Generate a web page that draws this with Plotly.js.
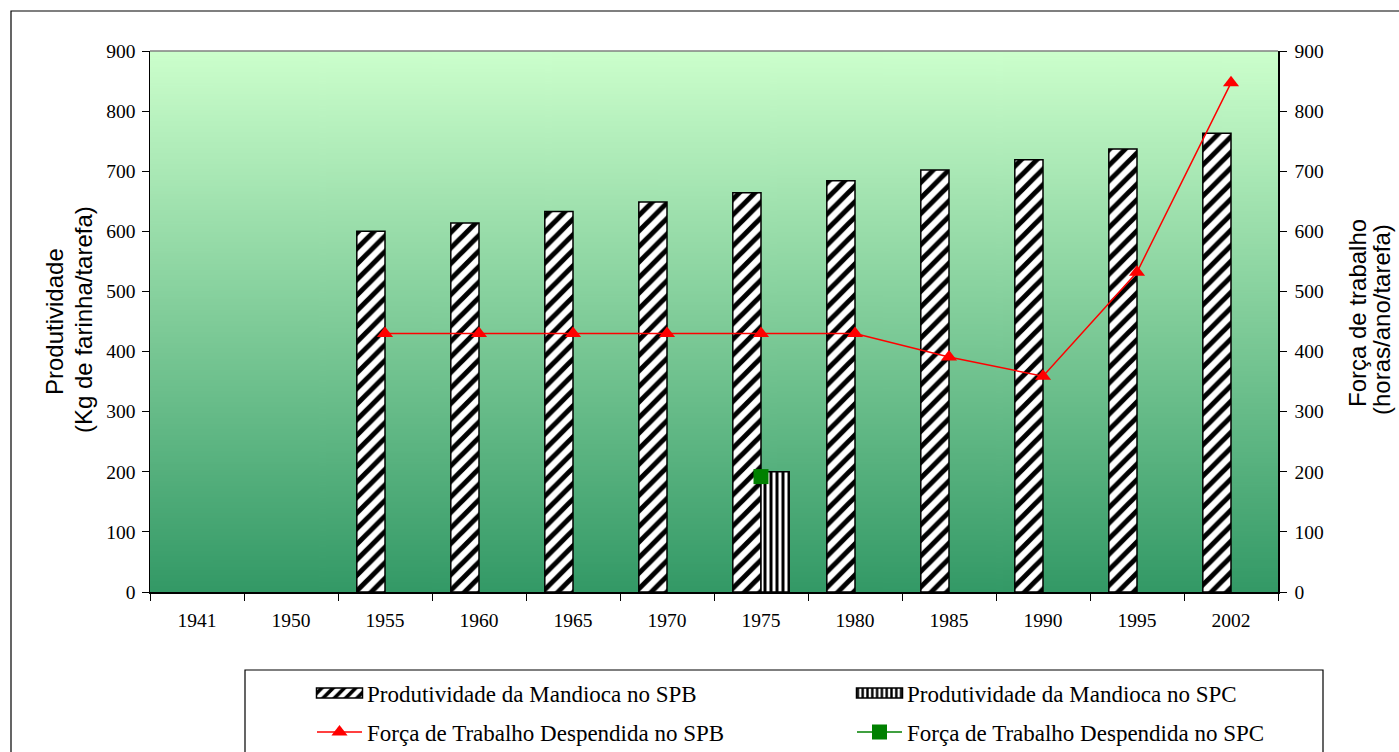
<!DOCTYPE html>
<html>
<head>
<meta charset="utf-8">
<script src="https://cdn.plot.ly/plotly-3.0.1.min.js"></script>
<style>html,body{margin:0;padding:0;background:#fff;}#chart{width:1399px;height:752px;}</style>
</head>
<body>
<div id="chart"></div>
<script>
const years = ['1941','1950','1955','1960','1965','1970','1975','1980','1985','1990','1995','2002'];
const prodSPB = [null, null, 600, 614, 633, 649, 664, 684, 702, 719, 737, 763];
const prodSPC = [null, null, null, null, null, null, 200, null, null, null, null, null];
const forcaSPB = [null, null, 430, 430, 430, 430, 430, 430, 391, 359, 532, 847];
const forcaSPC = [null, null, null, null, null, null, 192, null, null, null, null, null];
const names = ['Produtividade da Mandioca no SPB', 'Produtividade da Mandioca no SPC',
               'Força de Trabalho Despendida no SPB', 'Força de Trabalho Despendida no SPC'];
const leftTitle = ['Produtividade', '(Kg de farinha/tarefa)'];
const rightTitle = ['Força de trabalho', '(horas/ano/tarefa)'];

// gradient background image
const cv = document.createElement('canvas');
cv.width = 10; cv.height = 400;
const ctx = cv.getContext('2d');
const g = ctx.createLinearGradient(0, 0, 0, 400);
g.addColorStop(0, '#ccffcc');
g.addColorStop(1, '#339966');
ctx.fillStyle = g; ctx.fillRect(0, 0, 10, 400);
const bgURL = cv.toDataURL('image/png');

const serif = 'Liberation Serif, Times New Roman, serif';
const sans = 'Liberation Sans, Arial, sans-serif';

const traces = [
  {type:'bar', x:years, y:prodSPB, name:names[0],
   marker:{color:'#ffffff', line:{color:'#000', width:1.5},
     pattern:{shape:'/', fgcolor:'#000', bgcolor:'#ffffff', size:11, solidity:0.45}},
   legend:'legend'},
  {type:'bar', x:years, y:prodSPC, name:names[1],
   marker:{color:'#ffffff', line:{color:'#000', width:1.5},
     pattern:{shape:'|', fgcolor:'#000', bgcolor:'#ffffff', size:6, solidity:0.5}},
   legend:'legend2'},
  {type:'scatter', mode:'lines+markers', x:years, y:forcaSPB, yaxis:'y2',
   name:names[2], connectgaps:false,
   line:{color:'#ff0000', width:1.5}, marker:{symbol:'triangle-up', size:14, color:'#ff0000'},
   legend:'legend3'},
  {type:'scatter', mode:'lines+markers', x:years, y:forcaSPC, yaxis:'y2',
   name:names[3],
   line:{color:'#008000', width:1.5}, marker:{symbol:'square', size:15, color:'#008000'},
   legend:'legend4'}
];

const W = 1128, H = 541;
const px = v => (v - 150) / W;
const py = v => (592 - v) / H;

function leg(x, y) {
  return {orientation:'h', x:px(x), y:py(y), xanchor:'left', yanchor:'middle',
    itemwidth:45, bgcolor:'rgba(0,0,0,0)', borderwidth:0,
    font:{family:serif, size:23, color:'#000'}};
}

const tickFont = {family:serif, size:19.5, color:'#000'};
const titleFont = {family:sans, size:24, color:'#000'};

const layout = {
  width:1399, height:752,
  margin:{l:150, r:121, t:51, b:160, autoexpand:false},
  paper_bgcolor:'#ffffff', plot_bgcolor:'rgba(0,0,0,0)',
  barmode:'group', bargap:0.4, bargroupgap:0,
  showlegend:true,
  font:{family:serif, size:19.5, color:'#000'},
  xaxis:{type:'category', categoryorder:'array', categoryarray:years, range:[-0.5, years.length - 0.5], autorange:false,
    showline:true, linecolor:'#000', linewidth:1.5, ticks:'outside', ticklen:7, tickcolor:'#000',
    tickson:'boundaries', showgrid:false, zeroline:false, ticklabelstandoff:10,
    tickfont:tickFont, fixedrange:true},
  yaxis:{range:[0,900], dtick:100, showline:true, linecolor:'#000', linewidth:1.5,
    ticks:'outside', ticklen:7, tickcolor:'#000', showgrid:false, zeroline:false,
    tickfont:tickFont, ticklabelstandoff:2},
  yaxis2:{range:[0,900], dtick:100, overlaying:'y', side:'right', showline:true, linecolor:'#000', linewidth:1.5,
    ticks:'outside', ticklen:7, tickcolor:'#000', showgrid:false, zeroline:false,
    tickfont:tickFont, ticklabelstandoff:4},
  legend:leg(312, 693),
  legend2:leg(852, 693),
  legend3:leg(312, 732),
  legend4:leg(852, 732),
  annotations:[
    {text:leftTitle[0], xref:'paper', yref:'paper', x:px(54), y:py(322), textangle:-90, showarrow:false, font:titleFont, xanchor:'center', yanchor:'middle'},
    {text:leftTitle[1], xref:'paper', yref:'paper', x:px(83), y:py(320), textangle:-90, showarrow:false, font:titleFont, xanchor:'center', yanchor:'middle'},
    {text:rightTitle[0], xref:'paper', yref:'paper', x:px(1357), y:py(313), textangle:-90, showarrow:false, font:titleFont, xanchor:'center', yanchor:'middle'},
    {text:rightTitle[1], xref:'paper', yref:'paper', x:px(1381), y:py(320), textangle:-90, showarrow:false, font:titleFont, xanchor:'center', yanchor:'middle'}
  ],
  images:[{source:bgURL, xref:'paper', yref:'paper', x:0, y:1, sizex:1, sizey:1,
    sizing:'stretch', layer:'below'}],
  shapes:[
    {type:'line', xref:'paper', yref:'paper', x0:0, x1:1, y0:1, y1:1, line:{color:'#808080', width:1.5}},
    {type:'rect', xref:'paper', yref:'paper', x0:px(245), x1:px(1323), y0:py(670), y1:py(780),
      line:{color:'#000', width:1.2}, fillcolor:'rgba(0,0,0,0)'},
    {type:'rect', xref:'paper', yref:'paper', x0:px(11), x1:px(1420), y0:py(11), y1:py(800),
      line:{color:'#000', width:1.2}, fillcolor:'rgba(0,0,0,0)'}
  ]
};

function widenBarSymbols() {
  document.querySelectorAll('#chart .legendpoints path').forEach(function(p){
    const d = p.getAttribute('d') || '';
    if (/^M6,6H-6V-6H6Z/.test(d) || p.classList.contains('legendbar') || p.classList.contains('legendundefined')) {
      p.setAttribute('d', 'M23,5H-23V-5H23Z');
    }
  });
}

Plotly.newPlot('chart', traces, layout, {displayModeBar:false, staticPlot:true}).then(function(){
  widenBarSymbols();
  setTimeout(widenBarSymbols, 50);
});
</script>
</body>
</html>
